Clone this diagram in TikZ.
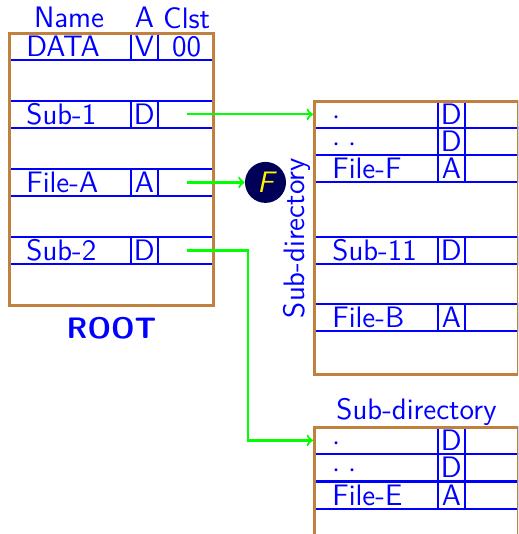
\documentclass[tikz,border=0pt]{standalone}
\usetikzlibrary{positioning}

\begin{document}
\begin{tikzpicture}[
  x=0.5pt, y=-0.5pt,
  font=\sffamily\fontsize{14.8}{17}\selectfont,
  every node/.style={inner sep=0pt, text=blue},
  lbl/.style={text height=10.2pt, text depth=0pt},
  dirbox/.style={draw=brown, line width=1.5pt, anchor=north west, minimum width=102pt},
  row/.style={draw=blue, line width=0.9pt, anchor=north west, minimum width=102pt, minimum height=13.5pt},
  attr/.style={lbl, draw=blue, line width=0.9pt, minimum width=13.5pt, minimum height=13.5pt},
  clst/.style={lbl, minimum width=27.5pt, minimum height=13.5pt},
  fcirc/.style={circle, fill=blue!35!black, text=yellow, minimum size=20.5pt},
  link/.style={->, green, line width=1.1pt}
]
  \path[use as bounding box, clip] (0,0) rectangle (518,534);

  % root directory
  \foreach \id/\top/\txt/\at in {data/32/DATA/V, sub1/100/Sub-1/D, filea/168/File-A/A, sub2/236/Sub-2/D} {
    \node[row] (\id) at (8,\top) {};
    \node[lbl, right=9pt of \id.west] (\id-nm) {\txt};
    \node[attr, right=61pt of \id.west] (\id-at) {\at};
    \node[clst, right=0pt of \id-at] (\id-cl) {};
  }
  \node[dirbox, minimum height=136pt] (root) at (8,32) {};
  \node[lbl] (data-no) at (data-cl) {00};
  \node[lbl, above=2pt of data-at] (hat) {A};
  \node[lbl, above=2pt of data-cl] (hcl) {Clst};
  \node[lbl, left=15pt of hat] (hnm) {Name};
  \node[lbl, below=5.5pt of root] (rootlbl) {\bfseries ROOT};

  % first sub-directory
  \foreach \id/\top/\txt/\at in {dot1/100/$\cdot$/D, dot2/127/$\cdot\;\cdot$/D, filef/154/File-F/A, sub11/236/Sub-11/D, fileb/303/File-B/A} {
    \node[row] (\id) at (313,\top) {};
    \node[lbl, right=9.5pt of \id.west] (\id-nm) {\txt};
    \node[attr, right=62pt of \id.west] (\id-at) {\at};
  }
  \node[dirbox, minimum height=136.5pt] (sub) at (313,100) {};
  \node[lbl, rotate=90, anchor=south] (sublbl) at ([xshift=-4pt]sub.west) {Sub-directory};

  % second sub-directory
  \foreach \id/\top/\txt/\at in {dotb1/426/$\cdot$/D, dotb2/453/$\cdot\;\cdot$/D, filee/481/File-E/A} {
    \node[row] (\id) at (313,\top) {};
    \node[lbl, right=9.5pt of \id.west] (\id-nm) {\txt};
    \node[attr, right=62pt of \id.west] (\id-at) {\at};
  }
  \node[dirbox, minimum height=110pt] (subb) at (313,426) {};
  \node[lbl, above=3pt of subb] (subblbl) {Sub-directory};

  \node[fcirc, right=15pt of filea-cl] (fobj) {\itshape F};

  \draw[link] (sub1-cl.center) -- (dot1.west);
  \draw[link] (filea-cl.center) -- (fobj);
  \draw[link] (sub2-cl.center) -- ++(30.5pt,0) |- (dotb1.west);
\end{tikzpicture}
\end{document}
